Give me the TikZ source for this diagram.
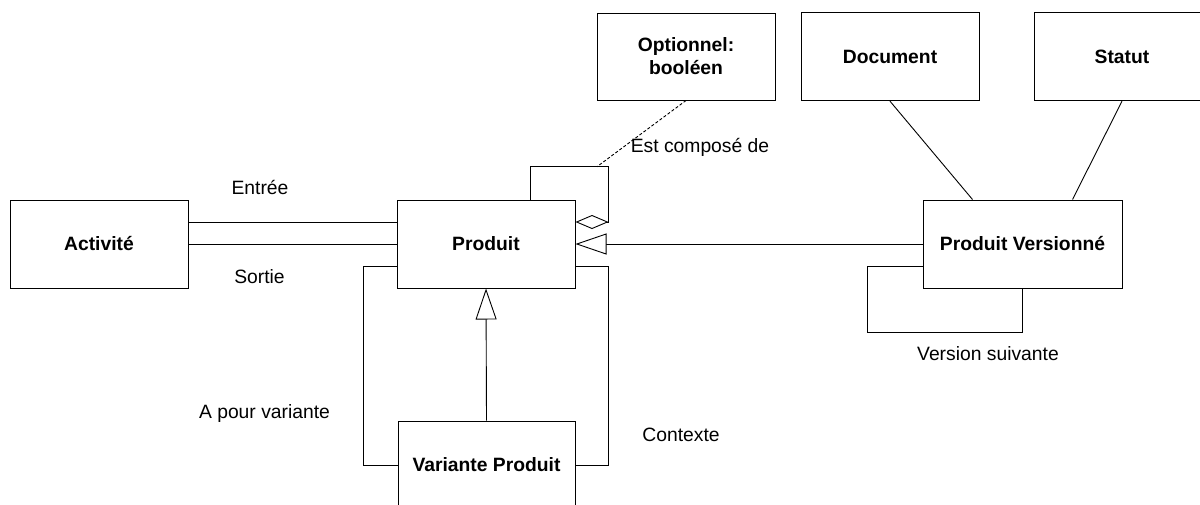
\documentclass[tikz,border=0pt]{standalone}
\usepackage{fontspec}
\setmainfont{Liberation Sans}
\usetikzlibrary{arrows.meta,calc}
\begin{document}
\begin{tikzpicture}[x=1pt,y=-1pt,
  cls/.style={draw,line width=1pt,minimum width=178pt,minimum height=88pt,inner sep=0pt,
    font=\fontsize{19.3}{23}\selectfont\bfseries,align=center},
  lbl/.style={font=\fontsize{19.3}{23}\selectfont,inner sep=0pt,anchor=base},
  conn/.style={line width=0.9pt},
  gen/.style={-{Triangle[length=31pt,width=21pt,fill=white]}},
  agg/.style={{Diamond[length=33pt,width=14pt,fill=white]}-}
]
\useasboundingbox (0,0) rectangle (1200,504);
\clip (0,0) rectangle (1200,504);

\node[cls] (act) at (99,244) {Activité};
\node[cls] (prod) at (486,244) {Produit};
\node[cls,minimum width=199pt] (pv) at (1022.5,244) {Produit Versionné};
\node[cls,minimum width=177pt] (var) at (486.5,465) {Variante Produit};
\node[cls,minimum height=87pt] (opt) at (686,56.5) {Optionnel:\\booléen};
\node[cls] (doc) at (890,56.7) {Document};
\node[cls,minimum width=176pt] (stat) at (1122,56.7) {Statut};

% Entrée / Sortie
\draw[conn] ([yshift=22pt]act.east) -- ([yshift=22pt]prod.west);
\draw[conn] (act.east) -- (prod.west);

% A pour variante
\draw[conn] ([yshift=-22pt]prod.west) -- ++(-33,0) |- (var.west);
% Contexte
\draw[conn] ([yshift=-22pt]prod.east) -- ++(33,0) |- (var.east);

% generalisations
\draw[conn,gen] (var.north) -- (prod.south);
\draw[conn,gen] (pv.west) -- (prod.east);

% Est composé de (aggregation self loop)
\draw[conn,agg] ([yshift=22pt]prod.east) -- ++(33,0) -- ++(0,-55.3) -| ([xshift=44.7pt]prod.north);
\coordinate (loopA) at (597,166.7);
\draw[conn,dashed,dash pattern=on 3pt off 2pt] (opt.south) -- (loopA);

% Document / Statut
\draw[conn] (doc.south) -- ([xshift=-50pt]pv.north);
\draw[conn] (stat.south) -- ([xshift=50pt]pv.north);

% Version suivante
\draw[conn] ([yshift=-22pt]pv.west) -- ++(-55,0) -- ++(0,66) -| (pv.south);

% labels
\node[lbl] (lEntree) at (260,194) {Entrée};
\node[lbl] (lSortie) at (259.5,283) {Sortie};
\node[lbl] (lEst) at (700,152) {Est composé de};
\node[lbl] (lVar) at (264.5,418) {A pour variante};
\node[lbl] (lCtx) at (681,441) {Contexte};
\node[lbl] (lVer) at (988,360) {Version suivante};
\end{tikzpicture}
\end{document}
